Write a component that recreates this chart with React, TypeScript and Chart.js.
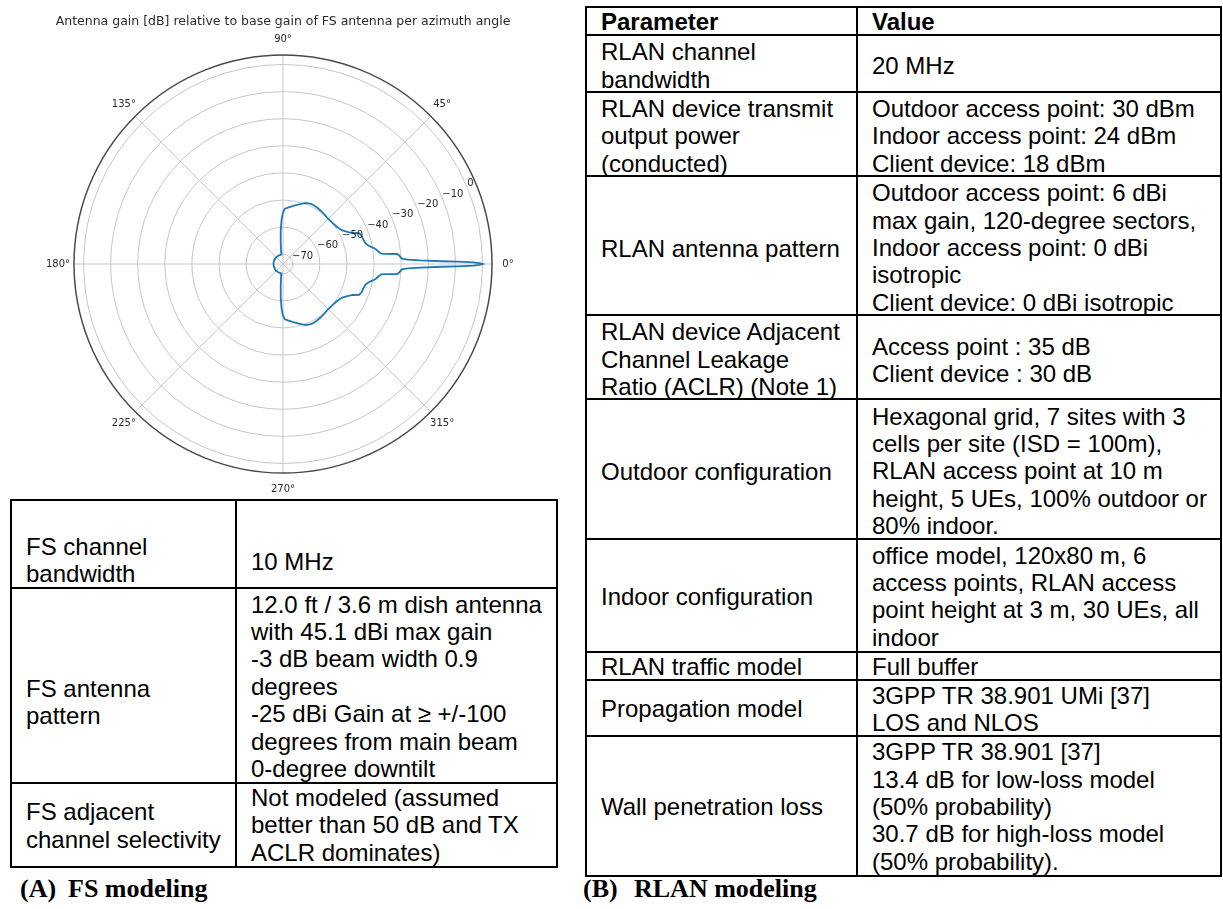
import React, { useEffect, useRef } from "react";
import { Chart, registerables } from "chart.js";

Chart.register(...registerables);

// ---------------- chart data ----------------
const CHART_TITLE =
  "Antenna gain [dB] relative to base gain of FS antenna per azimuth angle";

const AZIMUTH_DEG = [
  -180, -170, -160, -150, -140, -130, -120, -110, -100,
  -98, -96, -94, -92, -90, -88,
  -85, -80, -75, -70, -65, -60, -55, -50, -45, -40, -35, -30,
  -28, -26, -24, -22, -20, -18, -16, -14, -12,
  -11, -10, -9, -8, -7, -6,
  -5.5, -5, -4, -3, -2.5, -2, -1.5, -1, -0.75, -0.5, -0.25,
  0,
  0.25, 0.5, 0.75, 1, 1.5, 2, 2.5, 3, 4, 5, 5.5,
  6, 7, 8, 9, 10, 11,
  12, 14, 16, 18, 20, 22, 24, 26, 28,
  30, 35, 40, 45, 50, 55, 60, 65, 70, 75, 80, 85,
  88, 90, 92, 94, 96, 98,
  100, 110, 120, 130, 140, 150, 160, 170, 180,
];

const GAIN_DB = [
  -70.1, -70.1, -70.1, -70.1, -70.1, -70.1, -70.1, -70.1, -70.1,
  -68.5, -65.5, -61.5, -57.5, -54.5, -53.2,
  -52.7, -51.8, -50.8, -49.6, -49.1, -49.2, -49.5, -49.8, -50.0, -49.9, -49.5, -48.6,
  -47.8, -46.8, -45.5, -43.3, -42.8, -42.7, -42.5, -42.2, -41.3,
  -40.5, -39.6, -38.9, -38.4, -37.8, -37.2,
  -35.0, -31.3, -30.5, -30.0, -29.5, -27.5, -23.0, -15.0, -9.0, -3.5, -1.0,
  0,
  -1.0, -3.5, -9.0, -15.0, -23.0, -27.5, -29.5, -30.0, -30.5, -31.3, -35.0,
  -37.2, -37.8, -38.4, -38.9, -39.6, -40.5,
  -41.3, -42.2, -42.5, -42.7, -42.8, -43.3, -45.5, -46.8, -47.8,
  -48.6, -49.5, -49.9, -50.0, -49.8, -49.5, -49.2, -49.1, -49.6, -50.8, -51.8, -52.7,
  -53.2, -54.5, -57.5, -61.5, -65.5, -68.5,
  -70.1, -70.1, -70.1, -70.1, -70.1, -70.1, -70.1, -70.1, -70.1,
];

const RADIAL_TICKS = [-70, -60, -50, -40, -30, -20, -10, 0];
const ANGLE_TICKS = [0, 45, 90, 135, 180, 225, 270, 315];
const R_MIN = -73.6;
const R_MAX = 3.5;
const RADIAL_LABEL_ANGLE = 22.5;

// ---------------- table text ----------------
const FS_PARAMETERS = [
  "FS channel\nbandwidth",
  "FS antenna\npattern",
  "FS adjacent\nchannel selectivity",
];
const FS_VALUES = [
  "10 MHz",
  "12.0 ft / 3.6 m dish antenna\nwith 45.1 dBi max gain\n-3 dB beam width 0.9\ndegrees\n-25 dBi Gain at \u2265 +/-100\ndegrees from main beam\n0-degree downtilt",
  "Not modeled (assumed\nbetter than 50 dB and TX\nACLR dominates)",
];

const RLAN_HEADER = ["Parameter", "Value"];
const RLAN_PARAMETERS = [
  "RLAN channel\nbandwidth",
  "RLAN device transmit\noutput power\n(conducted)",
  "RLAN antenna pattern",
  "RLAN device Adjacent\nChannel Leakage\nRatio (ACLR) (Note 1)",
  "Outdoor configuration",
  "Indoor configuration",
  "RLAN traffic model",
  "Propagation model",
  "Wall penetration loss",
];
const RLAN_VALUES = [
  "20 MHz",
  "Outdoor access point: 30 dBm\nIndoor access point: 24 dBm\nClient device: 18 dBm",
  "Outdoor access point: 6 dBi\nmax gain, 120-degree sectors,\nIndoor access point: 0 dBi\nisotropic\nClient device: 0 dBi isotropic",
  "Access point : 35 dB\nClient device : 30 dB",
  "Hexagonal grid, 7 sites with 3\ncells per site (ISD = 100m),\nRLAN access point at 10 m\nheight, 5 UEs, 100% outdoor or\n80% indoor.",
  "office model, 120x80 m, 6\naccess points, RLAN access\npoint height at 3 m, 30 UEs, all\nindoor",
  "Full buffer",
  "3GPP TR 38.901 UMi [37]\nLOS and NLOS",
  "3GPP TR 38.901 [37]\n13.4 dB for low-loss model\n(50% probability)\n30.7 dB for high-loss model\n(50% probability).",
];

const CAPTION_A = ["(A)", "FS modeling"];
const CAPTION_B = ["(B)", "RLAN modeling"];

// ---------------- layout (page pixels) ----------------
const FS_COL_X = [11, 236, 557];
const FS_ROW_Y = [500, 588, 783, 867];
const FS_PARAM_TEXT_Y = [546.5, 688.3, 811.7];
const FS_VALUE_TEXT_Y = [561.7, 604, 797.3];
const FS_TEXT_X = [26, 251];

const RL_COL_X = [586, 857, 1221];
const RL_ROW_Y = [7, 35, 92, 176, 315, 399, 539, 652, 680, 736, 876];
const RL_PARAM_TEXT_Y = [51.7, 108.3, 248.3, 359.3 - 27.4, 471.7, 596.7, 666.7, 708.3, 806.7];
const RL_VALUE_TEXT_Y = [65, 108.3, 192.7, 346, 416, 555, 666.7, 695, 751.7];
const RL_HEADER_Y = 21.5;
const RL_TEXT_X = [601, 872];

const LINE_H = 27.4;
const TABLE_FONT = '"Liberation Sans", Arial, Helvetica, sans-serif';
const MPL_FONT = '"DejaVu Sans", Verdana, sans-serif';

const polarGridPlugin = {
  id: "polarGrid",
  beforeDatasetsDraw(chart: any) {
    const { ctx, scales } = chart;
    const xs = scales.x;
    const ys = scales.y;
    const cx = xs.getPixelForValue(0);
    const cy = ys.getPixelForValue(0);
    const rad = (v: number) => xs.getPixelForValue(v - R_MIN) - cx;
    const R = rad(R_MAX);
    ctx.save();
    ctx.strokeStyle = "#c6c6c6";
    ctx.lineWidth = 1;
    RADIAL_TICKS.forEach((t) => {
      ctx.beginPath();
      ctx.arc(cx, cy, rad(t), 0, Math.PI * 2);
      ctx.stroke();
    });
    ANGLE_TICKS.forEach((a) => {
      const t = (a * Math.PI) / 180;
      ctx.beginPath();
      ctx.moveTo(cx, cy);
      ctx.lineTo(cx + R * Math.cos(t), cy - R * Math.sin(t));
      ctx.stroke();
    });
    ctx.restore();
  },
  afterDatasetsDraw(chart: any) {
    const { ctx, scales } = chart;
    const xs = scales.x;
    const ys = scales.y;
    const cx = xs.getPixelForValue(0);
    const cy = ys.getPixelForValue(0);
    const rad = (v: number) => xs.getPixelForValue(v - R_MIN) - cx;
    const R = rad(R_MAX);
    ctx.save();
    // outer spine
    ctx.strokeStyle = "#4a4a4a";
    ctx.lineWidth = 1.5;
    ctx.beginPath();
    ctx.arc(cx, cy, R, 0, Math.PI * 2);
    ctx.stroke();

    ctx.fillStyle = "#2a2a2a";
    // angle labels
    ctx.font = `10px ${MPL_FONT}`;
    ctx.textAlign = "center";
    ctx.textBaseline = "middle";
    ANGLE_TICKS.forEach((a) => {
      const t = (a * Math.PI) / 180;
      const rr = R + 16;
      ctx.fillText(`${a}\u00b0`, cx + rr * Math.cos(t), cy - rr * Math.sin(t));
    });
    // radial labels
    ctx.textAlign = "left";
    ctx.textBaseline = "bottom";
    const la = (RADIAL_LABEL_ANGLE * Math.PI) / 180;
    RADIAL_TICKS.forEach((v) => {
      const rr = rad(v);
      const label = v < 0 ? `\u2212${Math.abs(v)}` : `${v}`;
      ctx.fillText(label, cx + rr * Math.cos(la), cy - rr * Math.sin(la) + 1);
    });
    // title
    ctx.font = `12.5px ${MPL_FONT}`;
    ctx.textAlign = "center";
    ctx.textBaseline = "middle";
    ctx.fillText(CHART_TITLE, cx, 22);
    ctx.restore();
  },
};

function PolarChart() {
  const ref = useRef<HTMLCanvasElement>(null);
  useEffect(() => {
    const span = R_MAX - R_MIN;
    const points = AZIMUTH_DEG.map((a, i) => {
      const r = GAIN_DB[i] - R_MIN;
      const t = (a * Math.PI) / 180;
      return { x: r * Math.cos(t), y: r * Math.sin(t) };
    });
    const chart = new Chart(ref.current as HTMLCanvasElement, {
      type: "scatter",
      data: {
        datasets: [
          {
            data: points,
            showLine: true,
            borderColor: "#1f77b4",
            backgroundColor: "#1f77b4",
            borderWidth: 1.8,
            pointRadius: 0,
            fill: false,
            tension: 0,
          } as any,
        ],
      },
      options: {
        animation: false,
        responsive: false,
        events: [],
        layout: { padding: { left: 74, top: 55, right: 78, bottom: 27 } },
        scales: {
          x: { type: "linear", min: -span, max: span, display: false },
          y: { type: "linear", min: -span, max: span, display: false },
        },
        plugins: {
          legend: { display: false },
          tooltip: { enabled: false },
          title: { display: false },
        },
      } as any,
      plugins: [polarGridPlugin],
    });
    return () => chart.destroy();
  }, []);
  return (
    <canvas
      ref={ref}
      width={570}
      height={500}
      style={{ position: "absolute", left: 0, top: 0, width: 570, height: 500 }}
    />
  );
}

function HLine({ x0, x1, y }: { x0: number; x1: number; y: number }) {
  return (
    <div
      style={{
        position: "absolute",
        left: x0 - 1,
        top: y - 1,
        width: x1 - x0 + 2,
        height: 2,
        background: "#000",
      }}
    />
  );
}
function VLine({ y0, y1, x }: { y0: number; y1: number; x: number }) {
  return (
    <div
      style={{
        position: "absolute",
        left: x - 1,
        top: y0 - 1,
        width: 2,
        height: y1 - y0 + 2,
        background: "#000",
      }}
    />
  );
}
function CellText({ x, y, text, bold }: { x: number; y: number; text: string; bold?: boolean }) {
  return (
    <div
      style={{
        position: "absolute",
        left: x,
        top: y - 13.5,
        fontFamily: TABLE_FONT,
        fontSize: 24,
        lineHeight: `${LINE_H}px`,
        fontWeight: bold ? "bold" : "normal",
        whiteSpace: "pre",
        color: "#000",
      }}
    >
      {text}
    </div>
  );
}
function Caption({ x, parts }: { x: number[]; parts: string[] }) {
  return (
    <>
      {parts.map((p, i) => (
        <div
          key={i}
          style={{
            position: "absolute",
            left: x[i],
            top: 874,
            fontFamily: '"Liberation Serif", "Times New Roman", serif',
            fontWeight: "bold",
            fontSize: 26,
            lineHeight: "30px",
            whiteSpace: "pre",
            color: "#000",
          }}
        >
          {p}
        </div>
      ))}
    </>
  );
}

function Grid({ xs, ys }: { xs: number[]; ys: number[] }) {
  const y0 = ys[0];
  const y1 = ys[ys.length - 1];
  const x0 = xs[0];
  const x1 = xs[xs.length - 1];
  return (
    <>
      {ys.map((y, i) => (
        <HLine key={"h" + i} x0={x0} x1={x1} y={y} />
      ))}
      {xs.map((x, i) => (
        <VLine key={"v" + i} y0={y0} y1={y1} x={x} />
      ))}
    </>
  );
}

export default function App() {
  return (
    <div
      style={{
        position: "absolute",
        left: 0,
        top: 0,
        width: 1223,
        height: 909,
        background: "#fff",
        overflow: "hidden",
      }}
    >
      <PolarChart />

      {/* FS table */}
      <Grid xs={FS_COL_X} ys={FS_ROW_Y} />
      {FS_PARAMETERS.map((t, i) => (
        <CellText key={"fp" + i} x={FS_TEXT_X[0]} y={FS_PARAM_TEXT_Y[i]} text={t} />
      ))}
      {FS_VALUES.map((t, i) => (
        <CellText key={"fv" + i} x={FS_TEXT_X[1]} y={FS_VALUE_TEXT_Y[i]} text={t} />
      ))}

      {/* RLAN table */}
      <Grid xs={RL_COL_X} ys={RL_ROW_Y} />
      <CellText x={RL_TEXT_X[0]} y={RL_HEADER_Y} text={RLAN_HEADER[0]} bold />
      <CellText x={RL_TEXT_X[1]} y={RL_HEADER_Y} text={RLAN_HEADER[1]} bold />
      {RLAN_PARAMETERS.map((t, i) => (
        <CellText key={"rp" + i} x={RL_TEXT_X[0]} y={RL_PARAM_TEXT_Y[i]} text={t} />
      ))}
      {RLAN_VALUES.map((t, i) => (
        <CellText key={"rv" + i} x={RL_TEXT_X[1]} y={RL_VALUE_TEXT_Y[i]} text={t} />
      ))}

      <Caption x={[20, 68]} parts={CAPTION_A} />
      <Caption x={[583, 634]} parts={CAPTION_B} />
    </div>
  );
}
